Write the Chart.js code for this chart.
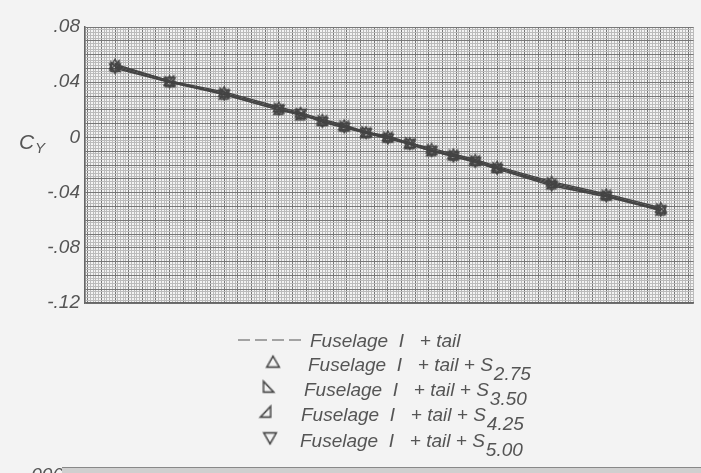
<!DOCTYPE html>
<html>
<head>
<meta charset="utf-8">
<script src="https://cdn.jsdelivr.net/npm/chart.js@4.4.1/dist/chart.umd.min.js"></script>
<style>
  html, body { margin: 0; padding: 0; background: #f3f3f3; }
  canvas { display: block; }
</style>
</head>
<body>
<canvas id="c" width="701" height="473"></canvas>
<script>
// ---- data ----
const beta = [-25, -20, -15, -10, -8, -6, -4, -2, 0, 2, 4, 6, 8, 10, 15, 20, 25];
const cyTail = [0.052, 0.041, 0.032, 0.021, 0.017, 0.012, 0.008, 0.004, 0.000, -0.004, -0.009, -0.013, -0.018, -0.023, -0.034, -0.043, -0.052];
const cyS275 = [0.053, 0.041, 0.033, 0.022, 0.018, 0.013, 0.009, 0.004, 0.001, -0.004, -0.008, -0.012, -0.016, -0.021, -0.032, -0.041, -0.051];
const cyS350 = [0.051, 0.040, 0.032, 0.021, 0.017, 0.012, 0.008, 0.004, 0.000, -0.004, -0.009, -0.013, -0.017, -0.022, -0.033, -0.042, -0.052];
const cyS425 = [0.052, 0.041, 0.031, 0.020, 0.016, 0.012, 0.008, 0.003, 0.000, -0.005, -0.010, -0.013, -0.017, -0.022, -0.034, -0.042, -0.053];
const cyS500 = [0.050, 0.040, 0.031, 0.020, 0.017, 0.011, 0.007, 0.003, -0.001, -0.005, -0.010, -0.014, -0.018, -0.023, -0.035, -0.043, -0.053];
const yTickLabels = ['.08', '.04', '0', '-.04', '-.08', '-.12'];
const legendMain = ['Fuselage  I   + tail', 'Fuselage  I   + tail + S', 'Fuselage  I   + tail + S', 'Fuselage  I   + tail + S', 'Fuselage  I   + tail + S'];
const legendSub = ['', '2.75', '3.50', '4.25', '5.00'];

// ---- marker images ----
const INK = '#444';
function marker(kind) {
  const c = document.createElement('canvas');
  c.width = 14; c.height = 14;
  const g = c.getContext('2d');
  g.strokeStyle = INK; g.lineWidth = 1.4; g.lineJoin = 'miter';
  g.beginPath();
  if (kind === 'up') { g.moveTo(7, 2); g.lineTo(12.5, 11.5); g.lineTo(1.5, 11.5); }
  else if (kind === 'rl') { g.moveTo(3, 2); g.lineTo(12, 11.5); g.lineTo(3, 11.5); }
  else if (kind === 'rr') { g.moveTo(11, 2); g.lineTo(11, 11.5); g.lineTo(2, 11.5); }
  else { g.moveTo(1.5, 2.5); g.lineTo(12.5, 2.5); g.lineTo(7, 12); }
  g.closePath(); g.stroke();
  return c;
}
const mUp = marker('up'), mRL = marker('rl'), mRR = marker('rr'), mDn = marker('dn');
const legendMarkers = [null, mUp, mRL, mRR, mDn];

function pts(ys) { return beta.map((b, i) => ({ x: b, y: ys[i] })); }

const FONT = 'Liberation Sans';

const overlay = {
  id: 'overlay',
  afterDraw(chart) {
    const ctx = chart.ctx;
    ctx.save();
    ctx.fillStyle = '#555';
    // y-axis title C_Y
    ctx.font = 'italic 21px ' + FONT;
    ctx.textBaseline = 'alphabetic';
    ctx.textAlign = 'left';
    ctx.fillText('C', 19, 149);
    ctx.font = 'italic 15px ' + FONT;
    ctx.fillText('Y', 35, 153);
    // legend
    const rows = [340, 364, 389, 414, 440];
    const textX = [310, 308, 304, 301, 300];
    const symX = [0, 273, 268, 266, 270];
    rows.forEach((yc, i) => {
      if (i === 0) {
        ctx.strokeStyle = '#555'; ctx.lineWidth = 1.2;
        ctx.setLineDash([12, 5]);
        ctx.beginPath(); ctx.moveTo(238, yc); ctx.lineTo(305, yc); ctx.stroke();
        ctx.setLineDash([]);
      } else {
        ctx.drawImage(legendMarkers[i], symX[i] - 8, yc - 10, 16, 16);
      }
      ctx.fillStyle = '#555';
      ctx.font = 'italic 19px ' + FONT;
      ctx.fillText(legendMain[i], textX[i], yc + 7);
      if (legendSub[i]) {
        const w = ctx.measureText(legendMain[i]).width;
        ctx.font = 'italic 19px ' + FONT;
        ctx.fillText(legendSub[i], textX[i] + w + 1, yc + 16);
      }
    });
    // partial next chart at bottom
    ctx.font = 'italic 19px ' + FONT;
    ctx.fillText('.006', 26, 481);
    ctx.fillStyle = '#cfcfcf';
    ctx.fillRect(62, 467, 639, 6);
    ctx.fillStyle = '#888';
    ctx.fillRect(62, 467, 639, 1);
    ctx.restore();
  }
};

function lineDs(label, ys, img, dashed) {
  return {
    label, data: pts(ys), showLine: true,
    borderColor: INK, borderWidth: dashed ? 1.2 : 1.4,
    borderDash: dashed ? [8, 4] : [],
    pointStyle: img || 'circle',
    pointRadius: img ? 6 : 0,
    backgroundColor: 'transparent',
    fill: false, tension: 0
  };
}

new Chart(document.getElementById('c'), {
  type: 'scatter',
  data: {
    datasets: [
      lineDs('Fuselage I + tail', cyTail, null, true),
      lineDs('S2.75', cyS275, mUp),
      lineDs('S3.50', cyS350, mRL),
      lineDs('S4.25', cyS425, mRR),
      lineDs('S5.00', cyS500, mDn)
    ]
  },
  options: {
    responsive: false,
    devicePixelRatio: 1,
    animation: false,
    layout: { padding: { left: 0, right: 7, top: 27, bottom: 170 } },
    plugins: { legend: { display: false }, tooltip: { enabled: false } },
    scales: {
      x: {
        type: 'linear', min: -27.75, max: 28,
        ticks: { display: false, stepSize: 0.25, autoSkip: false },
        grid: {
          drawTicks: false,
          color: c => (Math.round(c.tick.value / 0.25) % 5 === 0 ? '#777' : '#bbb'),
          lineWidth: 1
        },
        border: { color: '#666', width: 1.5 }
      },
      y: {
        min: -0.12, max: 0.08,
        afterFit: s => { s.width = 85; },
        ticks: {
          stepSize: 0.002, autoSkip: false, padding: 5,
          color: '#555',
          font: { family: FONT, style: 'italic', size: 19 },
          callback: v => {
            const idx = Math.round(v / 0.002);
            if (idx % 20 !== 0) return '';
            const k = Math.round((0.08 - idx * 0.002) / 0.04);
            return yTickLabels[k];
          }
        },
        grid: {
          drawTicks: false,
          color: c => (Math.round(c.tick.value / 0.002) % 5 === 0 ? '#777' : '#bbb'),
          lineWidth: 1
        },
        border: { color: '#666', width: 1.5 }
      }
    }
  },
  plugins: [overlay]
});
</script>
</body>
</html>
